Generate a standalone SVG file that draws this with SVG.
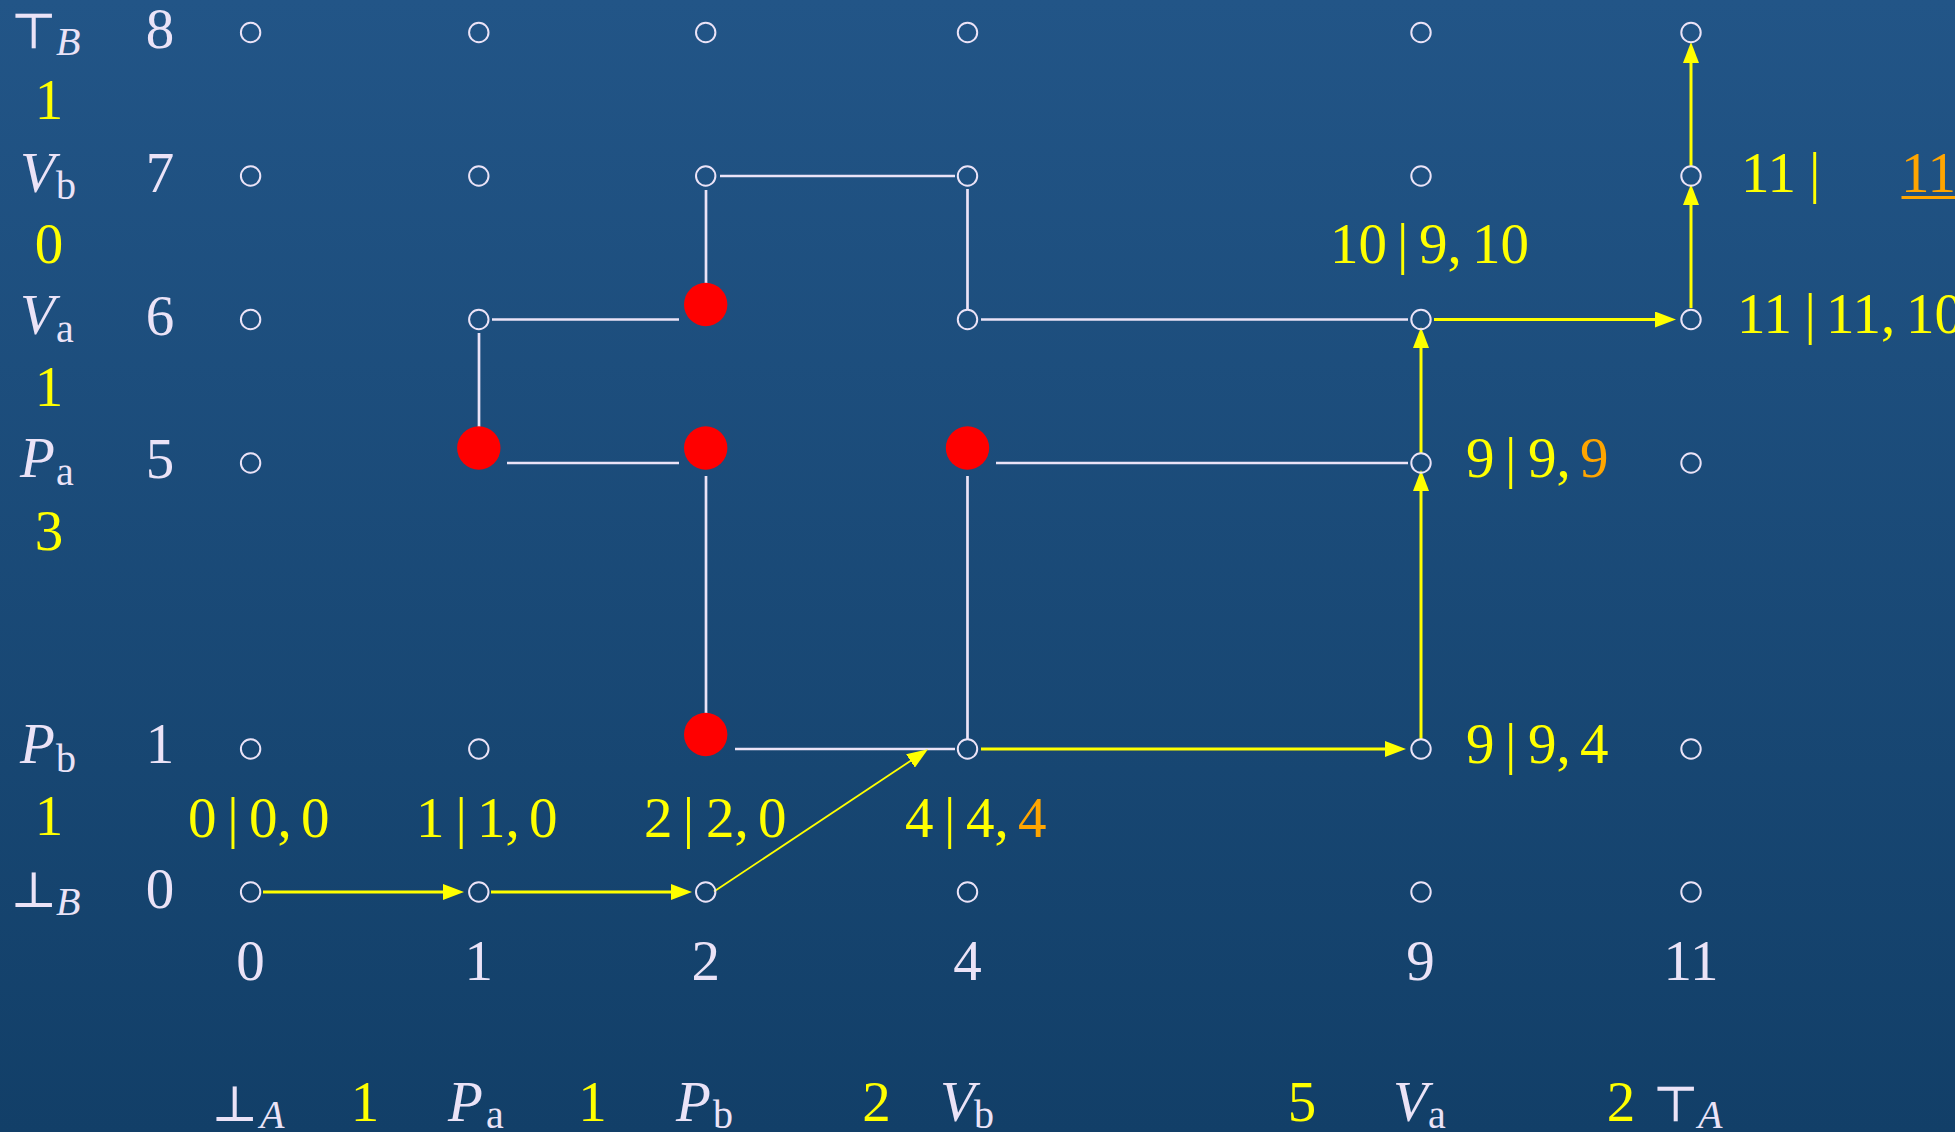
<svg xmlns="http://www.w3.org/2000/svg" width="1955" height="1132" viewBox="0 0 1955 1132">
<defs>
<linearGradient id="bg" x1="0" y1="0" x2="0" y2="1">
<stop offset="0" stop-color="#225587"/>
<stop offset="1" stop-color="#123f68"/>
</linearGradient>
<marker id="ah" markerUnits="userSpaceOnUse" viewBox="0 -8 21 16" refX="13" refY="0" markerWidth="21" markerHeight="16" orient="auto">
<path d="M0,-8 L21,0 L0,8 z" fill="#ffff00"/>
</marker>
<style>
text{font-family:"Liberation Serif","DejaVu Serif",serif;font-size:57px}
.lv{fill:#ebe3f7}
.ye{fill:#ffff00}
.or{fill:#ffa500}
.it{font-style:italic}
.sub{font-size:40px}
.sym{font-family:"DejaVu Serif","Liberation Serif",serif;font-size:50px}
.mid{text-anchor:middle}
.pt{fill:none;stroke:#ebe3f7;stroke-width:2}
.rd{fill:#ff0000}
.wl{stroke:#ebe3f7;stroke-width:2.7;fill:none}
.yl{stroke:#ffff00;stroke-width:3;fill:none;marker-end:url(#ah)}
.yd{stroke:#ffff00;stroke-width:1.8;fill:none;marker-end:url(#ah)}
</style>
</defs>
<rect x="0" y="0" width="1955" height="1132" fill="url(#bg)"/>

<g id="row-labels">
<text class="lv sym" x="10" y="48">⊤</text><text class="lv it sub" x="56" y="55">B</text>
<text class="lv it" x="20" y="192">V</text><text class="lv sub" x="56" y="199">b</text>
<text class="lv it" x="20" y="334">V</text><text class="lv sub" x="56" y="342">a</text>
<text class="lv it" x="20" y="477">P</text><text class="lv sub" x="56" y="485">a</text>
<text class="lv it" x="20" y="763">P</text><text class="lv sub" x="56" y="772">b</text>
<text class="lv sym" x="10" y="907">⊥</text><text class="lv it sub" x="56" y="915">B</text>
<text class="lv mid" x="160" y="48">8</text>
<text class="lv mid" x="160" y="192">7</text>
<text class="lv mid" x="160" y="335">6</text>
<text class="lv mid" x="160" y="478">5</text>
<text class="lv mid" x="160" y="763">1</text>
<text class="lv mid" x="160" y="908">0</text>
<text class="ye mid" x="49" y="119">1</text>
<text class="ye mid" x="49" y="263">0</text>
<text class="ye mid" x="49" y="406">1</text>
<text class="ye mid" x="49" y="550">3</text>
<text class="ye mid" x="49" y="835">1</text>
</g>

<g id="col-labels">
<text class="lv mid" x="250.6" y="980">0</text>
<text class="lv mid" x="478.8" y="980">1</text>
<text class="lv mid" x="705.7" y="980">2</text>
<text class="lv mid" x="967.5" y="980">4</text>
<text class="lv mid" x="1420.5" y="980">9</text>
<text class="lv mid" x="1691" y="980">11</text>
<text class="lv sym" x="211" y="1121">⊥</text><text class="lv it sub" x="260" y="1128">A</text>
<text class="lv it" x="448" y="1121">P</text><text class="lv sub" x="486" y="1128">a</text>
<text class="lv it" x="676" y="1121">P</text><text class="lv sub" x="713" y="1128">b</text>
<text class="lv it" x="940" y="1121">V</text><text class="lv sub" x="974" y="1128">b</text>
<text class="lv it" x="1393" y="1121">V</text><text class="lv sub" x="1428" y="1128">a</text>
<text class="lv sym" x="1652" y="1121">⊤</text><text class="lv it sub" x="1698" y="1128">A</text>
<text class="ye mid" x="365" y="1121">1</text>
<text class="ye mid" x="592.5" y="1121">1</text>
<text class="ye mid" x="876.5" y="1121">2</text>
<text class="ye mid" x="1302" y="1121">5</text>
<text class="ye mid" x="1621" y="1121">2</text>
</g>

<g id="connectors">
<line class="wl" x1="720" y1="176" x2="955" y2="176"/>
<line class="wl" x1="706" y1="190" x2="706" y2="283"/>
<line class="wl" x1="967.5" y1="189" x2="967.5" y2="309"/>
<line class="wl" x1="492" y1="319.5" x2="679" y2="319.5"/>
<line class="wl" x1="479" y1="333" x2="479" y2="427"/>
<line class="wl" x1="507" y1="463" x2="679" y2="463"/>
<line class="wl" x1="706" y1="476" x2="706" y2="713"/>
<line class="wl" x1="996" y1="463" x2="1408" y2="463"/>
<line class="wl" x1="967.5" y1="476" x2="967.5" y2="739"/>
<line class="wl" x1="981" y1="319.5" x2="1408" y2="319.5"/>
<line class="wl" x1="735" y1="749" x2="955" y2="749"/>
<line class="yl" x1="263" y1="892" x2="456" y2="892"/>
<line class="yl" x1="491" y1="892" x2="684" y2="892"/>
<line class="yd" x1="714" y1="891.5" x2="921.3" y2="753.7"/>
<line class="yl" x1="981" y1="749" x2="1398" y2="749"/>
<line class="yl" x1="1421" y1="739" x2="1421" y2="478"/>
<line class="yl" x1="1421" y1="453" x2="1421" y2="335"/>
<line class="yl" x1="1434" y1="319.5" x2="1668" y2="319.5"/>
<line class="yl" x1="1691" y1="308" x2="1691" y2="192"/>
<line class="yl" x1="1691" y1="166" x2="1691" y2="50"/>
</g>

<g id="n-0-8"><circle class="pt" cx="250.6" cy="32.5" r="9.7"/></g>
<g id="n-1-8"><circle class="pt" cx="478.8" cy="32.5" r="9.7"/></g>
<g id="n-2-8"><circle class="pt" cx="705.7" cy="32.5" r="9.7"/></g>
<g id="n-4-8"><circle class="pt" cx="967.5" cy="32.5" r="9.7"/></g>
<g id="n-9-8"><circle class="pt" cx="1421" cy="32.5" r="9.7"/></g>
<g id="n-11-8"><circle class="pt" cx="1691" cy="32.5" r="9.7"/></g>

<g id="n-0-7"><circle class="pt" cx="250.6" cy="176" r="9.7"/></g>
<g id="n-1-7"><circle class="pt" cx="478.8" cy="176" r="9.7"/></g>
<g id="n-2-7"><circle class="pt" cx="705.7" cy="176" r="9.7"/></g>
<g id="n-4-7"><circle class="pt" cx="967.5" cy="176" r="9.7"/></g>
<g id="n-9-7"><circle class="pt" cx="1421" cy="176" r="9.7"/></g>
<g id="n-11-7"><circle class="pt" cx="1691" cy="176" r="9.7"/>
<text class="ye" x="1741" y="192">11</text><text class="ye" x="1809" y="192">|</text>
<text class="or" x="1901" y="192">11</text>
<line x1="1901.5" y1="197.5" x2="1955" y2="197.5" stroke="#ffa500" stroke-width="3"/>
</g>

<g id="n-0-6"><circle class="pt" cx="250.6" cy="319.5" r="9.7"/></g>
<g id="n-1-6"><circle class="pt" cx="478.8" cy="319.5" r="9.7"/></g>
<g id="n-2-6"><circle class="rd" cx="705.7" cy="304.5" r="21.7"/></g>
<g id="n-4-6"><circle class="pt" cx="967.5" cy="319.5" r="9.7"/></g>
<g id="n-9-6"><circle class="pt" cx="1421" cy="319.5" r="9.7"/>
<text class="ye" x="1330" y="263">10</text><text class="ye" x="1397" y="263">|</text><text class="ye" x="1419" y="263">9,</text><text class="ye" x="1472" y="263">10</text>
</g>
<g id="n-11-6"><circle class="pt" cx="1691" cy="319.5" r="9.7"/>
<text class="ye" x="1737" y="333">11</text><text class="ye" x="1804.5" y="333">|</text><text class="ye" x="1826" y="333">11,</text><text class="ye" x="1906" y="333">10</text>
</g>

<g id="n-0-5"><circle class="pt" cx="250.6" cy="463" r="9.7"/></g>
<g id="n-1-5"><circle class="rd" cx="478.8" cy="448" r="21.7"/></g>
<g id="n-2-5"><circle class="rd" cx="705.7" cy="448" r="21.7"/></g>
<g id="n-4-5"><circle class="rd" cx="967.5" cy="448" r="21.7"/></g>
<g id="n-9-5"><circle class="pt" cx="1421" cy="463" r="9.7"/>
<text class="ye" x="1466" y="477">9</text><text class="ye" x="1505" y="477">|</text><text class="ye" x="1528" y="477">9,</text><text class="or" x="1580" y="477">9</text>
</g>
<g id="n-11-5"><circle class="pt" cx="1691" cy="463" r="9.7"/></g>

<g id="n-0-1"><circle class="pt" cx="250.6" cy="749" r="9.7"/></g>
<g id="n-1-1"><circle class="pt" cx="478.8" cy="749" r="9.7"/></g>
<g id="n-2-1"><circle class="rd" cx="705.7" cy="734.5" r="21.7"/></g>
<g id="n-4-1"><circle class="pt" cx="967.5" cy="749" r="9.7"/></g>
<g id="n-9-1"><circle class="pt" cx="1421" cy="749" r="9.7"/>
<text class="ye" x="1466" y="763">9</text><text class="ye" x="1505" y="763">|</text><text class="ye" x="1528" y="763">9,</text><text class="ye" x="1580" y="763">4</text>
</g>
<g id="n-11-1"><circle class="pt" cx="1691" cy="749" r="9.7"/></g>

<g id="n-0-0"><circle class="pt" cx="250.6" cy="892" r="9.7"/>
<text class="ye" x="188" y="837">0</text><text class="ye" x="227.3" y="837">|</text><text class="ye" x="249" y="837">0,</text><text class="ye" x="301" y="837">0</text>
</g>
<g id="n-1-0"><circle class="pt" cx="478.8" cy="892" r="9.7"/>
<text class="ye" x="416" y="837">1</text><text class="ye" x="455.5" y="837">|</text><text class="ye" x="477" y="837">1,</text><text class="ye" x="529" y="837">0</text>
</g>
<g id="n-2-0"><circle class="pt" cx="705.7" cy="892" r="9.7"/>
<text class="ye" x="644" y="837">2</text><text class="ye" x="682.8" y="837">|</text><text class="ye" x="706" y="837">2,</text><text class="ye" x="758" y="837">0</text>
</g>
<g id="n-4-0"><circle class="pt" cx="967.5" cy="892" r="9.7"/>
<text class="ye" x="905" y="837">4</text><text class="ye" x="944" y="837">|</text><text class="ye" x="966" y="837">4,</text><text class="or" x="1018" y="837">4</text>
</g>
<g id="n-9-0"><circle class="pt" cx="1421" cy="892" r="9.7"/></g>
<g id="n-11-0"><circle class="pt" cx="1691" cy="892" r="9.7"/></g>
</svg>
